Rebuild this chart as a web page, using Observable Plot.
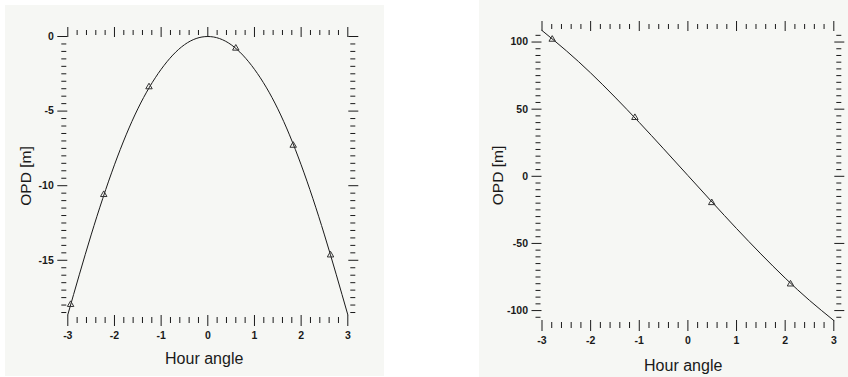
<!DOCTYPE html>
<html><head><meta charset="utf-8">
<script src="https://cdn.jsdelivr.net/npm/d3@7"></script>
<script src="https://cdn.jsdelivr.net/npm/@observablehq/plot@0.6"></script>
<style>
html,body{margin:0;padding:0;background:#fff;}
#page{position:relative;width:848px;height:377px;overflow:hidden;background:#fff;font-family:"Liberation Sans",Arial,sans-serif;}
.panel{position:absolute;background:#f6f7f4;}
.panel svg{display:block;}
</style></head><body>
<div id="page"><div id="left" class="panel"></div><div id="right" class="panel"></div></div>
<script>
// ---- data ----
const hourLeft = [-3, -2.5, -2, -1.5, -1, -0.5, 0, 0.5, 1, 1.5, 2, 2.5, 3];
const opdLeft = [-18.65, -13.3, -8.6, -4.85, -2.2, -0.55, 0, -0.55, -2.2, -4.85, -8.6, -13.3, -18.65];
const markHourLeft = [-2.94, -2.23, -1.26, 0.6, 1.83, 2.63];
const markOpdLeft = [-17.97, -10.6, -3.38, -0.79, -7.3, -14.65];

const hourRight = [-3, -2.5, -2, -1.5, -1, -0.5, 0, 0.5, 1, 1.5, 2, 2.5, 3];
const opdRight = [108.6, 93.5, 77.0, 59.0, 40.1, 20.5, 0.6, -19.3, -38.9, -57.8, -75.8, -92.4, -107.4];
const markHourRight = [-2.79, -1.09, 0.49, 2.11];
const markOpdRight = [102, 43.7, -19.7, -80.3];

const xMajorTicks = [-3, -2, -1, 0, 1, 2, 3];
const yMajorLeft = [0, -5, -10, -15];
const yMajorRight = [100, 50, 0, -50, -100];
const xTitle = "Hour angle";
const yTitle = "OPD [m]";

const ink = "#1a1a1a";
const xMinorTicks = d3.range(-3, 3.001, 0.2).map(v => +v.toFixed(2)).filter(v => !xMajorTicks.includes(v));

function drawPanel(cfg) {
  const el = document.getElementById(cfg.id);
  Object.assign(el.style, {left: cfg.left + "px", top: cfg.top + "px", width: cfg.width + "px", height: cfg.height + "px"});
  const curve = cfg.hours.map((h, i) => ({h, v: cfg.opd[i]}));
  const marks = cfg.markH.map((h, i) => ({h, v: cfg.markO[i]}));
  const fmt = d => String(d);
  const none = () => "";
  const common = {label: null, color: ink};
  const svg = Plot.plot({
    width: cfg.width, height: cfg.height,
    marginTop: cfg.mt, marginRight: cfg.mr, marginBottom: cfg.mb, marginLeft: cfg.ml,
    style: {background: "transparent", fontFamily: '"Liberation Sans", Arial, sans-serif', color: ink},
    x: {domain: [-3, 3]},
    y: {domain: cfg.yDomain},
    marks: [
      Plot.axisX(xMajorTicks, {...common, anchor: "bottom", tickSize: 11, tickPadding: 5, tickFormat: fmt, fontSize: 10.5, fontWeight: "bold"}),
      Plot.axisX(xMinorTicks, {...common, anchor: "bottom", tickSize: 6, dy: 2, tickFormat: none}),
      Plot.axisX(xMajorTicks, {...common, anchor: "top", tickSize: 10, tickFormat: none}),
      Plot.axisX(xMinorTicks, {...common, anchor: "top", tickSize: 5, dy: -2, tickFormat: none}),
      Plot.axisY(cfg.yMajor, {...common, anchor: "left", tickSize: 10, tickPadding: 4, tickFormat: fmt, fontSize: 10.5, fontWeight: "bold"}),
      Plot.axisY(cfg.yMinor, {...common, anchor: "left", tickSize: 5, dx: -1, tickFormat: none}),
      Plot.axisY(cfg.yMajor, {...common, anchor: "right", tickSize: 10, tickFormat: none}),
      Plot.axisY(cfg.yMinor, {...common, anchor: "right", tickSize: 5, dx: 2, tickFormat: none}),
      Plot.line(curve, {x: "h", y: "v", curve: "natural", stroke: ink, strokeWidth: 1}),
      Plot.dot(marks, {x: "h", y: "v", symbol: "triangle", r: 2.4, stroke: "#333", fill: "none", strokeWidth: 1}),
      Plot.text([yTitle], {text: d => d, frameAnchor: "left", rotate: -90, dx: cfg.ydx, textAnchor: "middle", lineAnchor: "middle", fontSize: 15.5, fill: ink}),
      Plot.text([xTitle], {text: d => d, frameAnchor: "bottom", dx: cfg.xdx, dy: cfg.xdy, textAnchor: "middle", lineAnchor: "middle", fontSize: 16, fill: ink})
    ]
  });
  el.appendChild(svg);
}

drawPanel({
  id: "left", left: 5, top: 5, width: 379, height: 371,
  mt: 31, mr: 36.7, mb: 61, ml: 62.3,
  yDomain: [-18.7, 0],
  hours: hourLeft, opd: opdLeft, markH: markHourLeft, markO: markOpdLeft,
  yMajor: yMajorLeft,
  yMinor: d3.range(0, -18.51, -0.5).map(v => +v.toFixed(1)).filter(v => !yMajorLeft.includes(v)),
  ydx: -42, xdx: -3.6, xdy: 43.2
});

drawPanel({
  id: "right", left: 479, top: 0, width: 369, height: 377,
  mt: 30, mr: 14.7, mb: 57, ml: 62.5,
  yDomain: [-107.4, 108.6],
  hours: hourRight, opd: opdRight, markH: markHourRight, markO: markOpdRight,
  yMajor: yMajorRight,
  yMinor: d3.range(-105, 106, 5).filter(v => !yMajorRight.includes(v)),
  ydx: -44, xdx: -4.7, xdy: 45.6
});
</script>
</body></html>
